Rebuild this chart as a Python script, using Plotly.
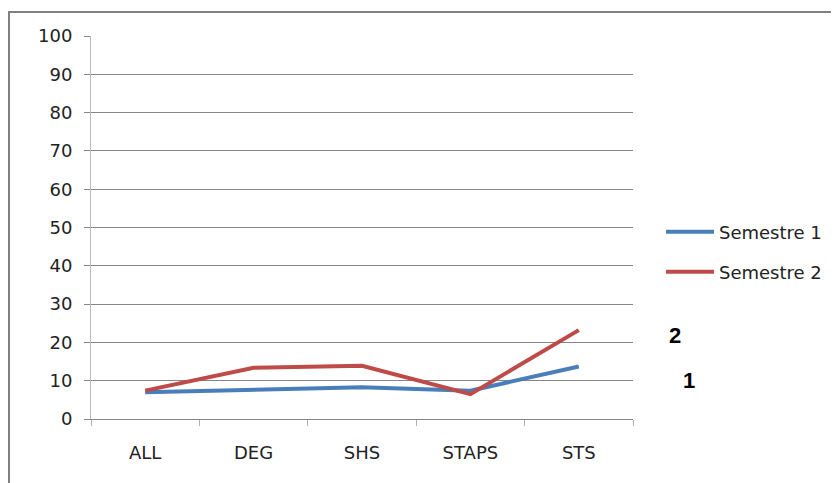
import plotly.graph_objects as go

categories = ["ALL", "DEG", "SHS", "STAPS", "STS"]
semestre1 = [7.0, 7.7, 8.3, 7.4, 13.7]
semestre2 = [7.4, 13.4, 13.9, 6.5, 23.2]
series_names = ["Semestre 1", "Semestre 2"]
y_ticks = [0, 10, 20, 30, 40, 50, 60, 70, 80, 90, 100]
side_labels = ["2", "1"]

# window geometry (the page body adds an 8 px offset)
W, H = 839, 483
OFF = 8
L, R, T, B = 91, 633, 36, 419
font = "DejaVu Sans"
FS = 18

fig = go.Figure()
fig.add_trace(go.Scatter(x=categories, y=semestre1, mode="lines", name=series_names[0],
                         line=dict(color="#4A7EBB", width=4), legend="legend"))
fig.add_trace(go.Scatter(x=categories, y=semestre2, mode="lines", name=series_names[1],
                         line=dict(color="#BE4B48", width=4), legend="legend2"))

def px_x(p):
    return (p - L) / (R - L)

def px_y(p):
    return (B - p) / (B - T)

fig.update_layout(
    width=W - OFF, height=H - OFF,
    margin=dict(l=L - OFF, r=W - R, t=T - OFF, b=H - B, autoexpand=False),
    paper_bgcolor="white", plot_bgcolor="white",
    font=dict(family=font, size=FS, color="#222222"),
    showlegend=True,
    legend=dict(x=px_x(661), y=px_y(232), xanchor="left", yanchor="middle",
                bgcolor="rgba(0,0,0,0)", font=dict(size=FS, color="#222222"),
                itemwidth=48, borderwidth=0),
    legend2=dict(x=px_x(661), y=px_y(272), xanchor="left", yanchor="middle",
                 bgcolor="rgba(0,0,0,0)", font=dict(size=FS, color="#222222"),
                 itemwidth=48, borderwidth=0),
    xaxis=dict(type="category", categoryorder="array", categoryarray=categories,
               range=[-0.5, len(categories) - 0.5],
               showline=True, linecolor="#868686", linewidth=1,
               ticks="outside", tickson="boundaries", ticklen=6, tickcolor="#b0b0b0",
               showgrid=False, zeroline=False, ticklabelstandoff=17,
               tickfont=dict(size=FS, color="#222222")),
    yaxis=dict(range=[0, 100], tickvals=y_ticks, ticktext=[str(v) for v in y_ticks],
               showline=True, linecolor="#b8b8b8", linewidth=1,
               ticks="outside", ticklen=6, tickcolor="#868686",
               showgrid=True, gridcolor="#868686", gridwidth=1,
               zeroline=False, ticklabelstandoff=8,
               tickfont=dict(size=FS, color="#222222")),
)

fig.add_annotation(text="<b>" + side_labels[0] + "</b>", xref="paper", yref="paper",
                   x=px_x(683), y=px_y(350), showarrow=False,
                   font=dict(family="Liberation Sans", size=22, color="black"))
fig.add_annotation(text="<b>" + side_labels[1] + "</b>", xref="paper", yref="paper",
                   x=px_x(697), y=px_y(395), showarrow=False,
                   font=dict(family="Liberation Sans", size=22, color="black"))

# outer chart frame (left and top edges visible)
fig.add_shape(type="line", xref="paper", yref="paper",
              x0=px_x(9), y0=px_y(11), x1=px_x(9), y1=px_y(500),
              line=dict(color="#808080", width=2))
fig.add_shape(type="line", xref="paper", yref="paper",
              x0=px_x(8), y0=px_y(12), x1=px_x(860), y1=px_y(12),
              line=dict(color="#808080", width=2))

fig.write_html("out.html")
